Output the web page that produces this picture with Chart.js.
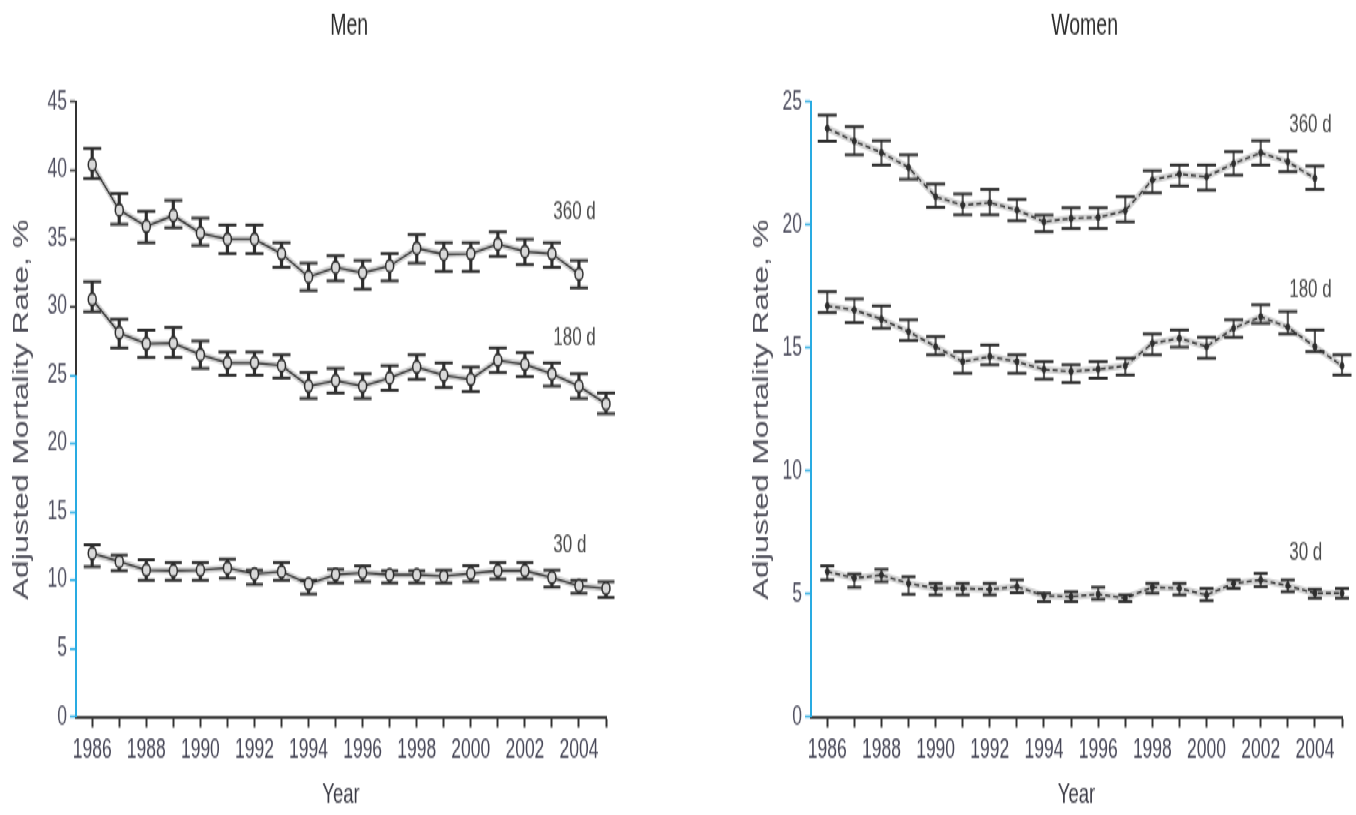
<!DOCTYPE html>
<html>
<head>
<meta charset="utf-8">
<script src="https://cdn.jsdelivr.net/npm/chart.js@4.4.1/dist/chart.umd.min.js"></script>
<style>
  html, body { margin: 0; padding: 0; background: #fff; overflow: hidden; }
  /* the figure is drawn on a shorter canvas and stretched vertically */
  #stage { position: absolute; left: 0; top: 0; width: 1356px; height: 543px;
           transform-origin: 0 0; transform: scaleY(1.50092); }
  #stage canvas { position: absolute; top: 0; }
</style>
</head>
<body>
<div id="stage">
  <canvas id="men" width="678" height="543" style="left:0;width:678px;height:543px"></canvas>
  <canvas id="women" width="678" height="543" style="left:678px;width:678px;height:543px"></canvas>
</div>
<script>
// ---- data -------------------------------------------------------------
const years = [1986, 1987, 1988, 1989, 1990, 1991, 1992, 1993, 1994, 1995,
               1996, 1997, 1998, 1999, 2000, 2001, 2002, 2003, 2004, 2005];

// Men, adjusted mortality (%) with 95% CI bounds
const men360   = [40.4, 37.1, 35.9, 36.7, 35.4, 34.95, 34.95, 33.9, 32.2, 32.9, 32.5, 33.0, 34.3, 33.85, 33.9, 34.6, 34.05, 33.9, 32.4];
const men360Lo = [39.4, 36.05, 34.7, 35.8, 34.5, 33.9, 33.9, 32.9, 31.2, 31.9, 31.3, 31.9, 33.2, 32.6, 32.6, 33.7, 33.1, 32.9, 31.4];
const men360Hi = [41.6, 38.3, 37.0, 37.8, 36.5, 36.0, 36.0, 34.7, 33.2, 33.75, 33.4, 33.9, 35.3, 34.7, 34.7, 35.5, 34.95, 34.7, 33.4];

const men180   = [30.55, 28.1, 27.3, 27.35, 26.5, 25.9, 25.9, 25.7, 24.2, 24.6, 24.2, 24.8, 25.6, 25.0, 24.7, 26.1, 25.8, 25.1, 24.2, 22.9];
const men180Lo = [29.65, 27.0, 26.3, 26.3, 25.5, 25.0, 25.0, 24.8, 23.3, 23.7, 23.3, 23.9, 24.7, 24.1, 23.8, 25.2, 24.9, 24.2, 23.3, 22.2];
const men180Hi = [31.85, 29.1, 28.3, 28.5, 27.5, 26.7, 26.7, 26.5, 25.2, 25.5, 25.1, 25.7, 26.5, 25.9, 25.6, 27.0, 26.65, 25.9, 25.1, 23.7];

const men30    = [11.97, 11.37, 10.75, 10.7, 10.75, 10.9, 10.46, 10.63, 9.73, 10.42, 10.56, 10.4, 10.4, 10.3, 10.5, 10.7, 10.7, 10.2, 9.6, 9.4];
const men30Lo  = [11.0, 10.7, 10.0, 10.0, 10.0, 10.15, 9.7, 10.0, 9.0, 9.8, 9.9, 9.8, 9.8, 9.8, 9.9, 10.1, 10.1, 9.5, 9.05, 8.75];
const men30Hi  = [12.6, 11.85, 11.5, 11.3, 11.3, 11.55, 10.75, 11.3, 10.0, 10.8, 11.05, 10.7, 10.7, 10.75, 11.07, 11.3, 11.3, 10.75, 10.0, 9.9];

// Women
const women360   = [23.93, 23.41, 22.94, 22.34, 21.15, 20.81, 20.91, 20.61, 20.13, 20.27, 20.31, 20.58, 21.83, 22.07, 21.96, 22.5, 22.94, 22.57, 21.9];
const women360Lo = [23.41, 22.85, 22.44, 21.86, 20.72, 20.41, 20.41, 20.17, 19.73, 19.86, 19.86, 20.13, 21.31, 21.59, 21.42, 22.03, 22.44, 22.17, 21.45];
const women360Hi = [24.47, 24.0, 23.43, 22.85, 21.67, 21.26, 21.45, 21.04, 20.4, 20.7, 20.7, 21.15, 22.21, 22.44, 22.44, 22.98, 23.43, 23.0, 22.4];

const women180   = [16.71, 16.54, 16.17, 15.66, 15.05, 14.44, 14.65, 14.44, 14.12, 14.04, 14.13, 14.27, 15.19, 15.39, 15.05, 15.8, 16.27, 15.84, 15.05, 14.27];
const women180Lo = [16.44, 16.03, 15.8, 15.3, 14.72, 13.97, 14.31, 13.97, 13.73, 13.59, 13.77, 13.9, 14.72, 15.03, 14.58, 15.43, 16.0, 15.57, 14.85, 13.9];
const women180Hi = [17.29, 16.99, 16.71, 16.14, 15.46, 14.85, 15.12, 14.72, 14.44, 14.31, 14.44, 14.58, 15.57, 15.73, 15.43, 16.14, 16.75, 16.48, 15.73, 14.72];

const women30   = [5.91, 5.64, 5.77, 5.43, 5.23, 5.23, 5.19, 5.3, 4.93, 4.89, 4.99, 4.83, 5.27, 5.23, 4.96, 5.43, 5.57, 5.33, 5.03, 5.03];
const women30Lo = [5.57, 5.27, 5.5, 4.99, 4.96, 4.96, 4.96, 5.05, 4.69, 4.69, 4.78, 4.69, 5.03, 4.96, 4.73, 5.23, 5.3, 5.09, 4.83, 4.83];
const women30Hi = [6.14, 5.81, 6.0, 5.7, 5.43, 5.43, 5.43, 5.57, 5.03, 5.09, 5.27, 4.96, 5.43, 5.43, 5.23, 5.57, 5.84, 5.57, 5.19, 5.23];

const seriesNames = ['360 d', '180 d', '30 d'];
const menTicks = [0, 5, 10, 15, 20, 25, 30, 35, 40, 45];
const womenTicks = [0, 5, 10, 15, 20, 25];

// ---- styling ----------------------------------------------------------
const SANS = "'Liberation Sans', Arial, Helvetica, sans-serif";
const INK = '#2e2e2e';
const CYAN = '#29abe2';

const pts = vals => vals.map((v, i) => ({ x: years[i], y: v }));
const spans = (lo, hi) => lo.map((l, i) => ({ x: years[i], y: [l, hi[i]] }));

// one series = halo band + CI whiskers + caps + line with markers
function seriesSets(vals, lo, hi, look) {
  return [
    { type: 'line', data: pts(vals), borderColor: 'rgba(140,140,140,0.40)', borderWidth: 4.5,
      pointRadius: 0, order: 4, clip: false },
    { type: 'bar', data: spans(lo, hi), backgroundColor: look.whisker, borderWidth: 0,
      barThickness: look.whiskerWidth, grouped: false, order: 3, clip: false },
    { type: 'line', data: pts(hi), showLine: false, pointStyle: 'line', pointRadius: look.cap,
      pointBorderColor: INK, pointBorderWidth: 2, order: 2, clip: false },
    { type: 'line', data: pts(lo), showLine: false, pointStyle: 'line', pointRadius: look.cap,
      pointBorderColor: INK, pointBorderWidth: 2, order: 2, clip: false },
    { type: 'line', data: pts(vals), borderColor: INK, borderWidth: 1.3, borderDash: look.dash,
      pointStyle: 'circle', pointRadius: look.marker, pointBackgroundColor: look.markerFill,
      pointBorderColor: INK, pointBorderWidth: look.markerBorder, order: 1, clip: false }
  ];
}

// headings, series tags and the dark upper part of the men's value axis
const panelExtras = {
  id: 'panelExtras',
  afterDraw(chart, args, opts) {
    const { ctx, chartArea, scales: { x, y } } = chart;
    ctx.save();
    if (opts.darkAxisFrom != null) {
      ctx.strokeStyle = '#333';
      ctx.lineWidth = 2;
      ctx.beginPath();
      ctx.moveTo(chartArea.left, y.getPixelForValue(y.max) - 1);
      ctx.lineTo(chartArea.left, y.getPixelForValue(opts.darkAxisFrom));
      ctx.stroke();
    }
    ctx.fillStyle = '#2a2a2a';
    ctx.textAlign = 'center';
    ctx.textBaseline = 'middle';
    ctx.font = `19.5px ${SANS}`;
    ctx.fillText(opts.heading, x.getPixelForValue((years[0] + years[years.length - 1]) / 2), 18);
    ctx.fillStyle = '#4a4a4a';
    ctx.textAlign = 'left';
    ctx.font = `17px ${SANS}`;
    opts.tags.forEach(t => ctx.fillText(t.text, x.getPixelForValue(t.x), y.getPixelForValue(t.y)));
    ctx.restore();
  }
};

function makePanel(id, p) {
  return new Chart(document.getElementById(id), {
    data: { datasets: p.datasets },
    options: {
      responsive: false,
      animation: false,
      events: [],
      layout: { padding: { left: 0, right: p.padRight, top: 67.96, bottom: 0 } },
      plugins: {
        legend: { display: false },
        tooltip: { enabled: false },
        title: { display: false },
        panelExtras: { heading: p.heading, tags: p.tags, darkAxisFrom: p.darkAxisFrom }
      },
      scales: {
        x: {
          type: 'linear', min: 1985.4, max: 2005, offset: false,
          afterBuildTicks: s => { s.ticks = years.map(v => ({ value: v })); },
          afterFit: s => { s.height = 65.3; },
          ticks: { autoSkip: false, maxRotation: 0, padding: 5, color: '#464656',
                   font: { family: SANS, size: 17.5 },
                   callback: v => (v % 2 === 0 ? String(v) : '') },
          grid: { drawOnChartArea: false, drawTicks: true, tickLength: 7, tickWidth: 2,
                  tickColor: '#333', offset: false },
          border: { color: '#3a3a3a', width: 2 },
          title: { display: true, text: 'Year', color: '#3a3a44',
                   font: { family: SANS, size: 18.5 }, padding: { top: 0, bottom: 2 } }
        },
        y: {
          type: 'linear', min: 0, max: p.yMax,
          afterBuildTicks: s => { s.ticks = p.yTicks.map(v => ({ value: v })); },
          afterFit: s => { s.width = p.yWidth; },
          ticks: { padding: 3, color: '#505060', font: { family: SANS, size: 17.5 } },
          grid: { drawOnChartArea: false, drawTicks: true, tickLength: 6, tickWidth: 1.5,
                  tickColor: c => (p.darkAxisFrom != null && c.tick && c.tick.value > p.darkAxisFrom ? '#333' : CYAN) },
          border: { color: CYAN, width: 2 },
          title: { display: true, text: 'Adjusted Mortality Rate, %', color: '#4e4e58',
                   font: { family: SANS, size: 21.5 }, padding: { top: p.yTitlePad, bottom: 0 } }
        }
      }
    },
    plugins: [panelExtras]
  });
}

const menLook = { whisker: INK, whiskerWidth: 2.5, cap: 9, dash: [], marker: 4,
                  markerFill: '#d9d9d9', markerBorder: 1.5 };
const womenLook = { whisker: '#555', whiskerWidth: 1.5, cap: 9.5, dash: [5, 3], marker: 2,
                    markerFill: INK, markerBorder: 1 };

makePanel('men', {
  heading: 'Men', yMax: 45, yTicks: menTicks, yWidth: 76, padRight: 72, yTitlePad: 9,
  darkAxisFrom: 25,
  tags: [{ text: seriesNames[0], x: 2003.05, y: 36.9 },
         { text: seriesNames[1], x: 2003.05, y: 27.7 },
         { text: seriesNames[2], x: 2003.05, y: 12.6 }],
  datasets: [
    ...seriesSets(men360, men360Lo, men360Hi, menLook),
    ...seriesSets(men180, men180Lo, men180Hi, menLook),
    ...seriesSets(men30, men30Lo, men30Hi, Object.assign({}, menLook, { cap: 8.5 }))
  ]
});

makePanel('women', {
  heading: 'Women', yMax: 25, yTicks: womenTicks, yWidth: 133, padRight: 14, yTitlePad: 71,
  darkAxisFrom: null,
  tags: [{ text: seriesNames[0], x: 2003.05, y: 24.07 },
         { text: seriesNames[1], x: 2003.05, y: 17.36 },
         { text: seriesNames[2], x: 2003.05, y: 6.7 }],
  datasets: [
    ...seriesSets(women360, women360Lo, women360Hi, womenLook),
    ...seriesSets(women180, women180Lo, women180Hi, womenLook),
    ...seriesSets(women30, women30Lo, women30Hi, Object.assign({}, womenLook, { cap: 7 }))
  ]
});
</script>
</body>
</html>
